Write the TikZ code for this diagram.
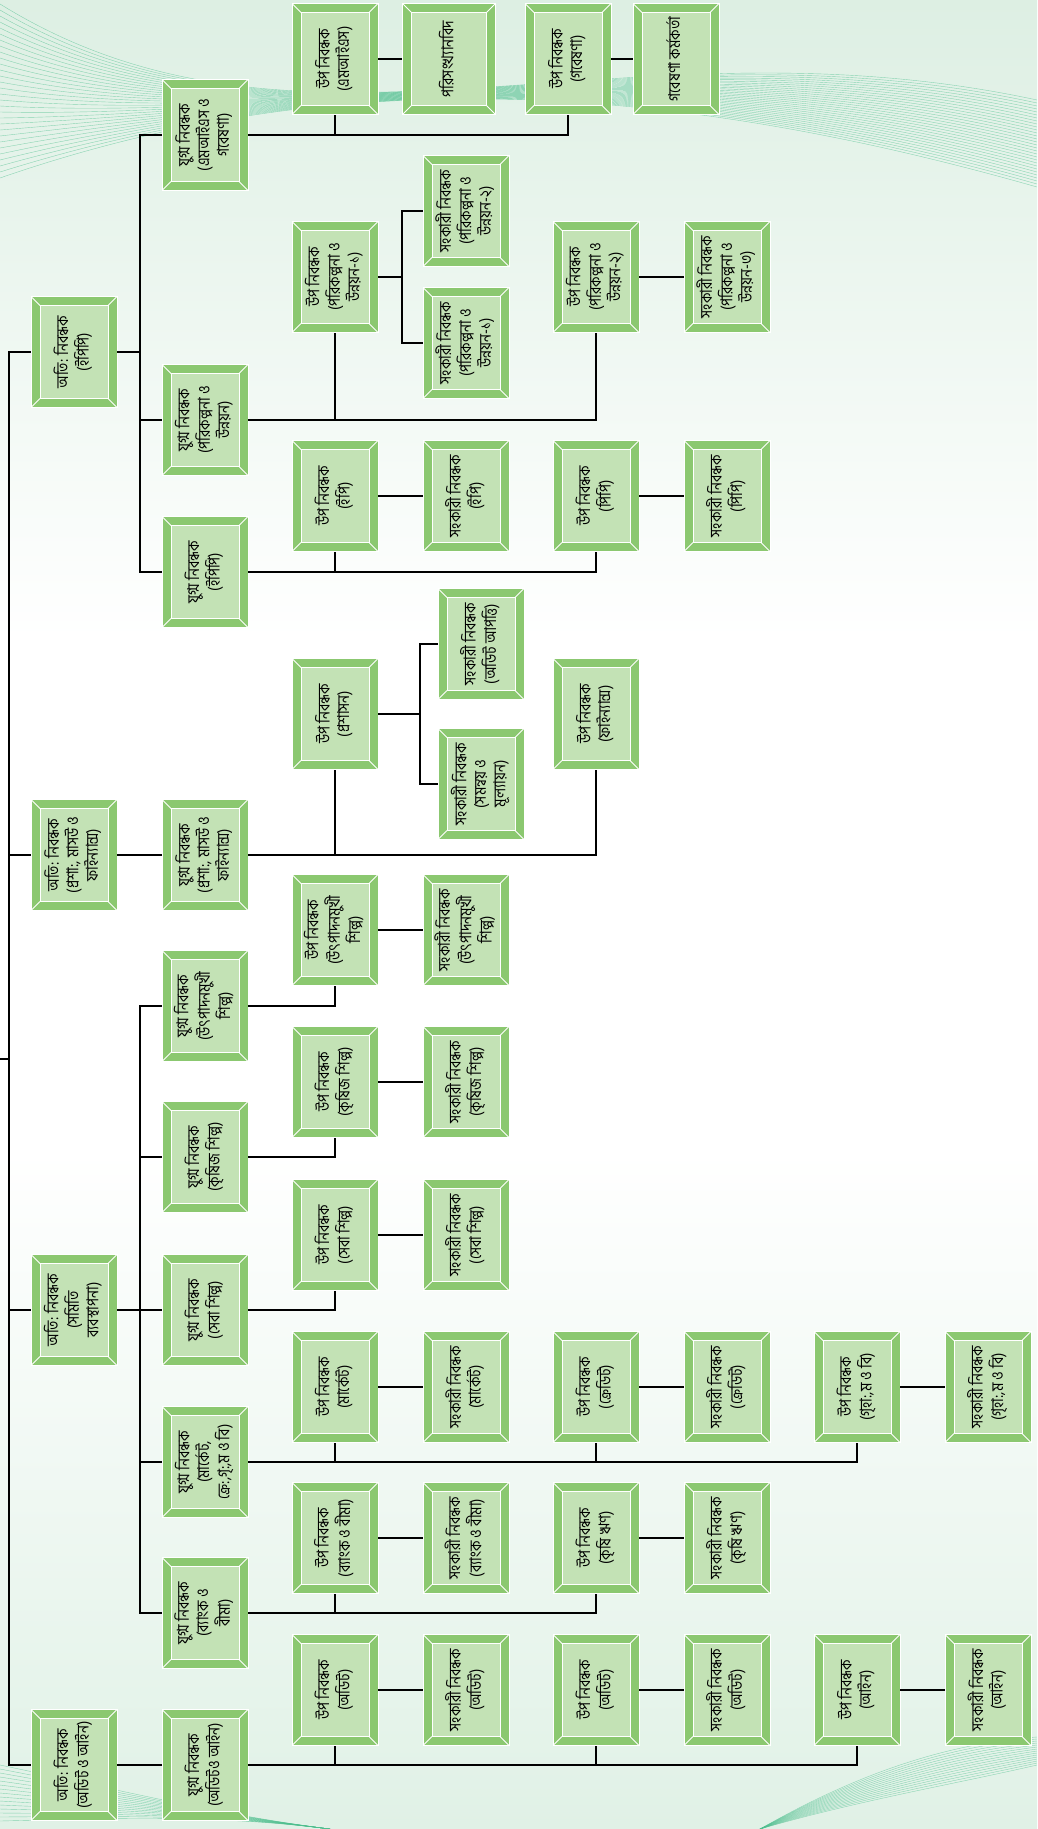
\documentclass[tikz,border=0pt]{standalone}
\usepackage{fontspec}
\usepackage{graphicx}
\setmainfont[Script=Bengali, FakeStretch=0.85]{Hind Siliguri}
\definecolor{framegreen}{HTML}{8BC870}
\definecolor{panegreen}{HTML}{C3E2B5}
\definecolor{bgtop}{HTML}{DDEFE3}
\definecolor{bgbot}{HTML}{E0F1E6}
\definecolor{wavegreen}{HTML}{4DBF8E}
\newcommand{\vlabel}[1]{\rotatebox{90}{\begin{tabular}{@{}c@{}}#1\end{tabular}}}

\begin{document}
\begin{tikzpicture}[
    x=1pt, y=-1pt,
    post/.style={
        rectangle,
        draw=white, line width=0.8pt,
        fill=framegreen,
        minimum width=86pt, minimum height=111pt,
        inner sep=0pt,
        font=\fontsize{16.5}{19.5}\selectfont,
        path picture={
          \fill[panegreen, draw=white, line width=1pt]
            ([shift={(9pt,-9pt)}]path picture bounding box.north west) rectangle
            ([shift={(-9pt,9pt)}]path picture bounding box.south east);
          \draw[white, line width=1pt]
            (path picture bounding box.north west) -- ++(9pt,-9pt)
            (path picture bounding box.north east) -- ++(-9pt,-9pt)
            (path picture bounding box.south west) -- ++(9pt,9pt)
            (path picture bounding box.south east) -- ++(-9pt,9pt);
        }
    },
    widepost/.style={post, minimum width=93pt},
    link/.style={draw=black, line width=1.8pt},
    wave/.style={draw=wavegreen, line width=0.4pt, opacity=0.6}
]
\useasboundingbox (0,0) rectangle (1037,1829);
\fill[white] (0,0) rectangle (1037,1829);
\shade[top color=bgtop, bottom color=white] (0,0) rectangle (1037,640);
\shade[top color=white, bottom color=bgbot] (0,1150) rectangle (1037,1829);

% background waves
\foreach \i in {0,...,29} {
  \draw[wave] (0,4+6*\i) .. controls (300,190-4*\i) and (620,10+2*\i) .. (1037,100+3*\i);
}
\foreach \i in {0,...,14} {
  \draw[wave] (0,1765+4*\i) .. controls (120,1790+2*\i) and (220,1815) .. (330,1829);
  \draw[wave] (760,1829) .. controls (860,1800-2*\i) and (950,1785-3*\i) .. (1037,1765-2*\i);
}

% additional registrars
\node[post] (addl1) at (74,352)  {\vlabel{অতি: নিবন্ধক\\(ইপিপি)}};
\node[post] (addl2) at (74,855)  {\vlabel{অতি: নিবন্ধক\\(প্রশা:, মাসউ ও\\ফাইন্যান্স)}};
\node[post] (addl3) at (74,1310) {\vlabel{অতি: নিবন্ধক\\(সমিতি\\ব্যবস্থাপনা)}};
\node[post] (addl4) at (74,1765) {\vlabel{অতি: নিবন্ধক\\(অডিট ও আইন)}};

% joint registrars
\node[post] (jr1)  at (205,135)  {\vlabel{যুগ্ম নিবন্ধক\\(এমআইএস ও\\গবেষণা)}};
\node[post] (jr2)  at (205,420)  {\vlabel{যুগ্ম নিবন্ধক\\(পরিকল্পনা ও\\উন্নয়ন)}};
\node[post] (jr3)  at (205,572)  {\vlabel{যুগ্ম নিবন্ধক\\(ইপিপি)}};
\node[post] (jr4)  at (205,855)  {\vlabel{যুগ্ম নিবন্ধক\\(প্রশা:, মাসউ ও\\ফাইন্যান্স)}};
\node[post] (jr5)  at (205,1006) {\vlabel{যুগ্ম নিবন্ধক\\(উৎপাদনমুখী\\শিল্প)}};
\node[post] (jr6)  at (205,1157) {\vlabel{যুগ্ম নিবন্ধক\\(কৃষিজ শিল্প)}};
\node[post] (jr7)  at (205,1310) {\vlabel{যুগ্ম নিবন্ধক\\(সেবা শিল্প)}};
\node[post] (jr8)  at (205,1462) {\vlabel{যুগ্ম নিবন্ধক\\(মার্কেট,\\ক্রে:,গৃ:,ম ও বি)}};
\node[post] (jr9)  at (205,1613) {\vlabel{যুগ্ম নিবন্ধক\\(ব্যাংক ও\\বীমা)}};
\node[post] (jr10) at (205,1765) {\vlabel{যুগ্ম নিবন্ধক\\(অডিটও আইন)}};

% mis and research
\node[post] (mis)  at (335,59)     {\vlabel{উপ নিবন্ধক\\(এমআইএস)}};
\node[widepost] (stat) at (449,59) {\vlabel{পরিসংখ্যানবিদ}};
\node[post] (res)  at (568,59)     {\vlabel{উপ নিবন্ধক\\(গবেষণা)}};
\node[post] (reso) at (676,59)     {\vlabel{গবেষণা কর্মকর্তা}};

% planning and development
\node[post] (pd1)  at (335,277) {\vlabel{উপ নিবন্ধক\\(পরিকল্পনা ও\\উন্নয়ন-১)}};
\node[post] (apd2) at (466,211) {\vlabel{সহকারী নিবন্ধক\\(পরিকল্পনা ও\\উন্নয়ন-২)}};
\node[post] (apd1) at (466,343) {\vlabel{সহকারী নিবন্ধক\\(পরিকল্পনা ও\\উন্নয়ন-১)}};
\node[post] (pd2)  at (596,277) {\vlabel{উপ নিবন্ধক\\(পরিকল্পনা ও\\উন্নয়ন-২)}};
\node[post] (apd3) at (727,277) {\vlabel{সহকারী নিবন্ধক\\(পরিকল্পনা ও\\উন্নয়ন-৩)}};

% epp
\node[post] (ep)  at (335,496) {\vlabel{উপ নিবন্ধক\\(ইপি)}};
\node[post] (aep) at (466,496) {\vlabel{সহকারী নিবন্ধক\\(ইপি)}};
\node[post] (pp)  at (596,496) {\vlabel{উপ নিবন্ধক\\(পিপি)}};
\node[post] (app) at (727,496) {\vlabel{সহকারী নিবন্ধক\\(পিপি)}};

% administration and finance
\node[post] (adm)    at (335,714) {\vlabel{উপ নিবন্ধক\\(প্রশাসন)}};
\node[post] (aaud)   at (481,644) {\vlabel{সহকারী নিবন্ধক\\(অডিট আপত্তি)}};
\node[post] (acoord) at (481,784) {\vlabel{সহকারী নিবন্ধক\\(সমন্বয় ও\\মূল্যায়ন)}};
\node[post] (fin)    at (596,714) {\vlabel{উপ নিবন্ধক\\(ফাইন্যান্স)}};

% industries
\node[post] (mfg)   at (335,930)  {\vlabel{উপ নিবন্ধক\\(উৎপাদনমুখী\\শিল্প)}};
\node[post] (amfg)  at (466,930)  {\vlabel{সহকারী নিবন্ধক\\(উৎপাদনমুখী\\শিল্প)}};
\node[post] (agro)  at (335,1082) {\vlabel{উপ নিবন্ধক\\(কৃষিজ শিল্প)}};
\node[post] (aagro) at (466,1082) {\vlabel{সহকারী নিবন্ধক\\(কৃষিজ শিল্প)}};
\node[post] (srv)   at (335,1235) {\vlabel{উপ নিবন্ধক\\(সেবা শিল্প)}};
\node[post] (asrv)  at (466,1235) {\vlabel{সহকারী নিবন্ধক\\(সেবা শিল্প)}};

% market, credit, housing
\node[post] (mkt)  at (335,1387) {\vlabel{উপ নিবন্ধক\\(মার্কেট)}};
\node[post] (amkt) at (466,1387) {\vlabel{সহকারী নিবন্ধক\\(মার্কেট)}};
\node[post] (crd)  at (596,1387) {\vlabel{উপ নিবন্ধক\\(ক্রেডিট)}};
\node[post] (acrd) at (727,1387) {\vlabel{সহকারী নিবন্ধক\\(ক্রেডিট)}};
\node[post] (hsg)  at (857,1387) {\vlabel{উপ নিবন্ধক\\(গৃহা:,ম ও বি)}};
\node[post] (ahsg) at (988,1387) {\vlabel{সহকারী নিবন্ধক\\(গৃহা:,ম ও বি)}};

% bank and insurance
\node[post] (bank)  at (335,1538) {\vlabel{উপ নিবন্ধক\\(ব্যাংক ও বীমা)}};
\node[post] (abank) at (466,1538) {\vlabel{সহকারী নিবন্ধক\\(ব্যাংক ও বীমা)}};
\node[post] (agcr)  at (596,1538) {\vlabel{উপ নিবন্ধক\\(কৃষি ঋণ)}};
\node[post] (aagcr) at (727,1538) {\vlabel{সহকারী নিবন্ধক\\(কৃষি ঋণ)}};

% audit and law
\node[post] (aud1)  at (335,1690) {\vlabel{উপ নিবন্ধক\\(অডিট)}};
\node[post] (aaud1) at (466,1690) {\vlabel{সহকারী নিবন্ধক\\(অডিট)}};
\node[post] (aud2)  at (596,1690) {\vlabel{উপ নিবন্ধক\\(অডিট)}};
\node[post] (aaud2) at (727,1690) {\vlabel{সহকারী নিবন্ধক\\(অডিট)}};
\node[post] (law)   at (857,1690) {\vlabel{উপ নিবন্ধক\\(আইন)}};
\node[post] (alaw)  at (988,1690) {\vlabel{সহকারী নিবন্ধক\\(আইন)}};

% junction points
\coordinate (root)  at (0,1059);
\coordinate (trunk) at (9,0);
\coordinate (spine) at (140,0);
\coordinate (fork1) at (402,277);
\coordinate (fork2) at (420,714);

% trunk
\draw[link] (addl1) -- (addl1 -| trunk) -- (addl4 -| trunk) -- (addl4);
\draw[link] (addl2) -- (addl2 -| trunk);
\draw[link] (addl3) -- (addl3 -| trunk);
\draw[link] (root) -- (root -| trunk);

% additional to joint
\draw[link] (addl1) -- (addl1 -| spine);
\draw[link] (jr1) -- (jr1 -| spine) -- (jr3 -| spine) -- (jr3);
\draw[link] (jr2) -- (jr2 -| spine);
\draw[link] (addl2) -- (jr4);
\draw[link] (addl3) -- (jr7);
\draw[link] (jr5) -- (jr5 -| spine) -- (jr9 -| spine) -- (jr9);
\draw[link] (jr6) -- (jr6 -| spine);
\draw[link] (jr8) -- (jr8 -| spine);
\draw[link] (addl4) -- (jr10);

% joint to deputy
\draw[link] (jr1) -| (mis);
\draw[link] (jr1) -| (res);
\draw[link] (mis) -- (stat);
\draw[link] (res) -- (reso);

\draw[link] (jr2) -| (pd1);
\draw[link] (jr2) -| (pd2);
\draw[link] (pd1) -- (fork1);
\draw[link] (apd2) -| (fork1) |- (apd1);
\draw[link] (pd2) -- (apd3);

\draw[link] (jr3) -| (ep);
\draw[link] (jr3) -| (pp);
\draw[link] (ep) -- (aep);
\draw[link] (pp) -- (app);

\draw[link] (jr4) -| (adm);
\draw[link] (jr4) -| (fin);
\draw[link] (adm) -- (fork2);
\draw[link] (aaud) -| (fork2) |- (acoord);

\draw[link] (jr5) -| (mfg);
\draw[link] (mfg) -- (amfg);
\draw[link] (jr6) -| (agro);
\draw[link] (agro) -- (aagro);
\draw[link] (jr7) -| (srv);
\draw[link] (srv) -- (asrv);

\draw[link] (jr8) -| (mkt);
\draw[link] (jr8) -| (crd);
\draw[link] (jr8) -| (hsg);
\draw[link] (mkt) -- (amkt);
\draw[link] (crd) -- (acrd);
\draw[link] (hsg) -- (ahsg);

\draw[link] (jr9) -| (bank);
\draw[link] (jr9) -| (agcr);
\draw[link] (bank) -- (abank);
\draw[link] (agcr) -- (aagcr);

\draw[link] (jr10) -| (aud1);
\draw[link] (jr10) -| (aud2);
\draw[link] (jr10) -| (law);
\draw[link] (aud1) -- (aaud1);
\draw[link] (aud2) -- (aaud2);
\draw[link] (law) -- (alaw);
\end{tikzpicture}
\end{document}
